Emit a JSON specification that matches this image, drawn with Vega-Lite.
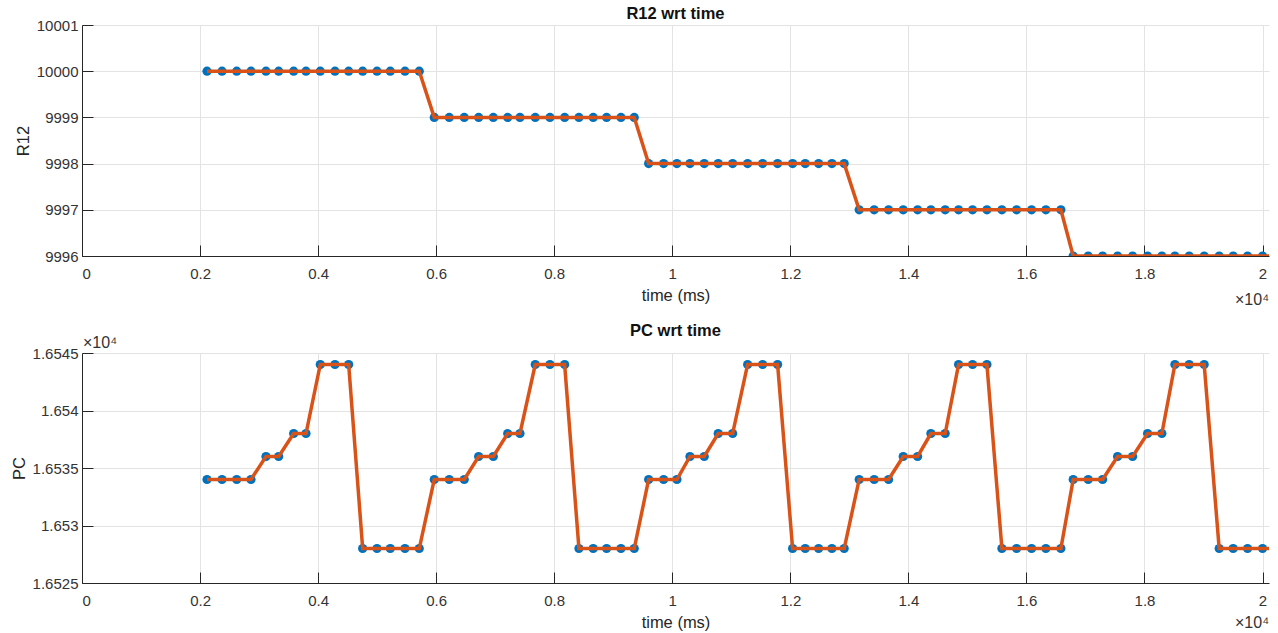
{
  "$schema": "https://vega.github.io/schema/vega-lite/v6.json",
  "background": "white",
  "padding": {"left": 11, "top": 5, "right": 5, "bottom": 0},
  "spacing": 14,
  "datasets": {
    "series": [
      {"t": 2118, "R12": 10000, "PC": 16534},
      {"t": 2372, "R12": 10000, "PC": 16534},
      {"t": 2621, "R12": 10000, "PC": 16534},
      {"t": 2863, "R12": 10000, "PC": 16534},
      {"t": 3117, "R12": 10000, "PC": 16536},
      {"t": 3332, "R12": 10000, "PC": 16536},
      {"t": 3586, "R12": 10000, "PC": 16538},
      {"t": 3795, "R12": 10000, "PC": 16538},
      {"t": 4037, "R12": 10000, "PC": 16544},
      {"t": 4286, "R12": 10000, "PC": 16544},
      {"t": 4518, "R12": 10000, "PC": 16544},
      {"t": 4755, "R12": 10000, "PC": 16528},
      {"t": 4998, "R12": 10000, "PC": 16528},
      {"t": 5223, "R12": 10000, "PC": 16528},
      {"t": 5472, "R12": 10000, "PC": 16528},
      {"t": 5714, "R12": 10000, "PC": 16528},
      {"t": 5968, "R12": 9999, "PC": 16534},
      {"t": 6222, "R12": 9999, "PC": 16534},
      {"t": 6476, "R12": 9999, "PC": 16534},
      {"t": 6720, "R12": 9999, "PC": 16536},
      {"t": 6968, "R12": 9999, "PC": 16536},
      {"t": 7212, "R12": 9999, "PC": 16538},
      {"t": 7420, "R12": 9999, "PC": 16538},
      {"t": 7679, "R12": 9999, "PC": 16544},
      {"t": 7928, "R12": 9999, "PC": 16544},
      {"t": 8177, "R12": 9999, "PC": 16544},
      {"t": 8419, "R12": 9999, "PC": 16528},
      {"t": 8661, "R12": 9999, "PC": 16528},
      {"t": 8888, "R12": 9999, "PC": 16528},
      {"t": 9131, "R12": 9999, "PC": 16528},
      {"t": 9356, "R12": 9999, "PC": 16528},
      {"t": 9600, "R12": 9998, "PC": 16534},
      {"t": 9854, "R12": 9998, "PC": 16534},
      {"t": 10079, "R12": 9998, "PC": 16534},
      {"t": 10300, "R12": 9998, "PC": 16536},
      {"t": 10542, "R12": 9998, "PC": 16536},
      {"t": 10779, "R12": 9998, "PC": 16538},
      {"t": 11023, "R12": 9998, "PC": 16538},
      {"t": 11277, "R12": 9998, "PC": 16544},
      {"t": 11531, "R12": 9998, "PC": 16544},
      {"t": 11785, "R12": 9998, "PC": 16544},
      {"t": 12039, "R12": 9998, "PC": 16528},
      {"t": 12253, "R12": 9998, "PC": 16528},
      {"t": 12480, "R12": 9998, "PC": 16528},
      {"t": 12705, "R12": 9998, "PC": 16528},
      {"t": 12913, "R12": 9998, "PC": 16528},
      {"t": 13167, "R12": 9997, "PC": 16534},
      {"t": 13421, "R12": 9997, "PC": 16534},
      {"t": 13665, "R12": 9997, "PC": 16534},
      {"t": 13913, "R12": 9997, "PC": 16536},
      {"t": 14157, "R12": 9997, "PC": 16536},
      {"t": 14382, "R12": 9997, "PC": 16538},
      {"t": 14624, "R12": 9997, "PC": 16538},
      {"t": 14851, "R12": 9997, "PC": 16544},
      {"t": 15088, "R12": 9997, "PC": 16544},
      {"t": 15331, "R12": 9997, "PC": 16544},
      {"t": 15585, "R12": 9997, "PC": 16528},
      {"t": 15834, "R12": 9997, "PC": 16528},
      {"t": 16088, "R12": 9997, "PC": 16528},
      {"t": 16330, "R12": 9997, "PC": 16528},
      {"t": 16584, "R12": 9997, "PC": 16528},
      {"t": 16793, "R12": 9996, "PC": 16534},
      {"t": 17047, "R12": 9996, "PC": 16534},
      {"t": 17291, "R12": 9996, "PC": 16534},
      {"t": 17545, "R12": 9996, "PC": 16536},
      {"t": 17799, "R12": 9996, "PC": 16536},
      {"t": 18053, "R12": 9996, "PC": 16538},
      {"t": 18295, "R12": 9996, "PC": 16538},
      {"t": 18516, "R12": 9996, "PC": 16544},
      {"t": 18758, "R12": 9996, "PC": 16544},
      {"t": 19012, "R12": 9996, "PC": 16544},
      {"t": 19266, "R12": 9996, "PC": 16528},
      {"t": 19503, "R12": 9996, "PC": 16528},
      {"t": 19747, "R12": 9996, "PC": 16528},
      {"t": 20001, "R12": 9996, "PC": 16528},
      {"t": 20250, "R12": 9996, "PC": 16528}
    ],
    "notes": [
      {"label": "×10⁴"}
    ]
  },
  "config": {
    "view": {"stroke": null},
    "font": "Liberation Sans",
    "axis": {
      "domainColor": "#262626",
      "domainWidth": 1,
      "tickColor": "#262626",
      "tickSize": -11,
      "labelFont": "Liberation Sans",
      "labelFontSize": 15,
      "labelColor": "#333333",
      "titleFont": "Liberation Sans",
      "titleFontSize": 16.5,
      "titleFontWeight": "normal",
      "titleColor": "#262626",
      "gridColor": "#e3e3e3",
      "gridWidth": 1
    },
    "title": {
      "font": "Liberation Sans",
      "fontSize": 16.5,
      "fontWeight": "bold",
      "color": "#111111",
      "anchor": "middle",
      "frame": "group",
      "offset": -4
    }
  },
  "vconcat": [
    {
      "width": 1187,
      "height": 231,
      "title": "R12 wrt time",
      "layer": [
        {
          "data": {"name": "series"},
          "mark": {"type": "point", "filled": true, "size": 85, "opacity": 1, "color": "#0072BD", "clip": true},
          "encoding": {
            "x": {"field": "t", "type": "quantitative", "scale": {"domain": [0, 20110], "nice": false, "zero": false},
              "axis": {"values": [0, 2000, 4000, 6000, 8000, 10000, 12000, 14000, 16000, 18000, 20000], "labelExpr": "format(datum.value/10000, '.2~g')", "title": "time (ms)", "labelPadding": 21, "titlePadding": 6, "grid": true}},
            "y": {"field": "R12", "type": "quantitative", "scale": {"domain": [9996, 10001], "nice": false, "zero": false},
              "axis": {"values": [9996, 9997, 9998, 9999, 10000, 10001], "format": "d", "title": "R12", "labelPadding": 15, "titlePadding": 5, "grid": true}}
          }
        },
        {
          "data": {"name": "series"},
          "mark": {"type": "line", "color": "#D95319", "strokeWidth": 3.5, "clip": true},
          "encoding": {
            "x": {"field": "t", "type": "quantitative"},
            "y": {"field": "R12", "type": "quantitative"}
          }
        },
        {
          "data": {"name": "notes"},
          "mark": {"type": "text", "align": "right", "baseline": "middle", "dy": 44, "fontSize": 16, "color": "#333333"},
          "encoding": {
            "x": {"datum": 20110, "type": "quantitative"},
            "y": {"datum": 9996, "type": "quantitative"},
            "text": {"field": "label"}
          }
        }
      ]
    },
    {
      "width": 1187,
      "height": 230,
      "title": "PC wrt time",
      "layer": [
        {
          "data": {"name": "series"},
          "mark": {"type": "point", "filled": true, "size": 85, "opacity": 1, "color": "#0072BD", "clip": true},
          "encoding": {
            "x": {"field": "t", "type": "quantitative", "scale": {"domain": [0, 20110], "nice": false, "zero": false},
              "axis": {"values": [0, 2000, 4000, 6000, 8000, 10000, 12000, 14000, 16000, 18000, 20000], "labelExpr": "format(datum.value/10000, '.2~g')", "title": "time (ms)", "labelPadding": 21, "titlePadding": 6, "grid": true}},
            "y": {"field": "PC", "type": "quantitative", "scale": {"domain": [16525, 16545], "nice": false, "zero": false},
              "axis": {"values": [16525, 16530, 16535, 16540, 16545], "labelExpr": "format(datum.value/10000, '.5~g')", "title": "PC", "labelPadding": 15, "titlePadding": 5, "grid": true}}
          }
        },
        {
          "data": {"name": "series"},
          "mark": {"type": "line", "color": "#D95319", "strokeWidth": 3.5, "clip": true},
          "encoding": {
            "x": {"field": "t", "type": "quantitative"},
            "y": {"field": "PC", "type": "quantitative"}
          }
        },
        {
          "data": {"name": "notes"},
          "mark": {"type": "text", "align": "right", "baseline": "middle", "dy": 40, "fontSize": 16, "color": "#333333"},
          "encoding": {
            "x": {"datum": 20110, "type": "quantitative"},
            "y": {"datum": 16525, "type": "quantitative"},
            "text": {"field": "label"}
          }
        },
        {
          "data": {"name": "notes"},
          "mark": {"type": "text", "align": "left", "baseline": "middle", "dy": -10, "dx": 1, "fontSize": 16, "color": "#333333"},
          "encoding": {
            "x": {"datum": 0, "type": "quantitative"},
            "y": {"datum": 16545, "type": "quantitative"},
            "text": {"field": "label"}
          }
        }
      ]
    }
  ]
}
